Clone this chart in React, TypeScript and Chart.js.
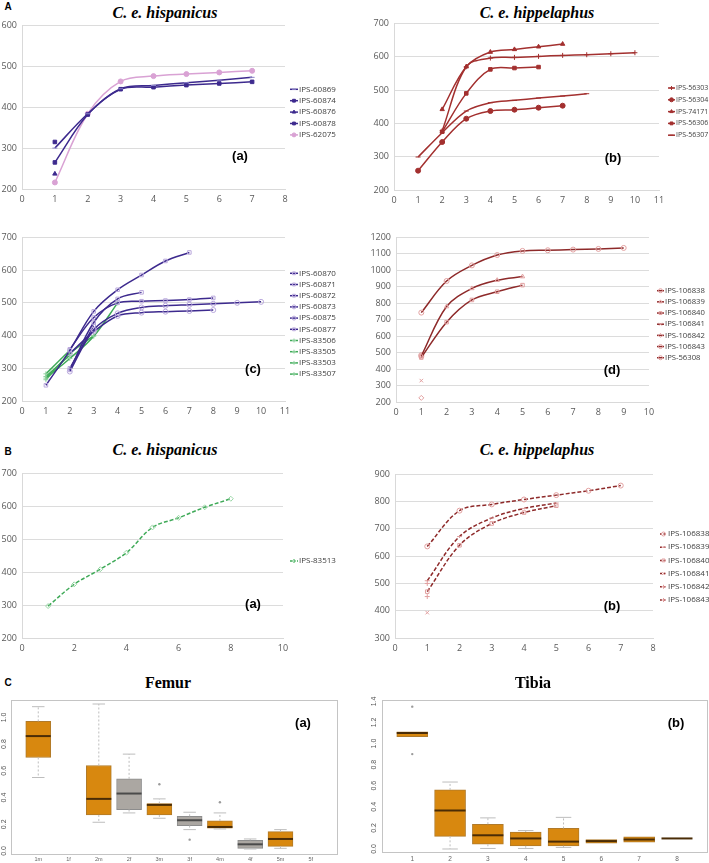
import React, { useEffect, useRef } from "react";
import { Chart, registerables } from "chart.js";
import { drawPoint } from "chart.js/helpers";
Chart.register(...registerables);

// ---------- Panel A (a) C. e. hispanicus ----------
const aa60869X = [1, 2, 3, 4, 5, 6, 7];
const aa60869Y = [300, 384, 445, 453, 460, 466, 473];
const aa60874X = [1, 2, 3, 4, 5, 6, 7];
const aa60874Y = [265, 382, 444, 449, 454, 458, 462];
const aa60876X = [1];
const aa60876Y = [237];
const aa60878X = [1];
const aa60878Y = [315];
const aa62075X = [1, 2, 3, 4, 5, 6, 7];
const aa62075Y = [216, 384, 463, 476, 481, 485, 489];

// ---------- Panel A (b) C. e. hippelaphus ----------
const ab56303X = [2, 3, 4, 5, 6, 7, 8, 9, 10];
const ab56303Y = [378, 570, 596, 598, 601, 604, 606, 609, 612];
const ab56304X = [1, 2, 3, 4, 5, 6, 7];
const ab56304Y = [258, 344, 414, 437, 441, 447, 453];
const ab74171X = [2, 3, 4, 5, 6, 7];
const ab74171Y = [442, 570, 614, 622, 630, 638];
const ab56306X = [2, 3, 4, 5, 6];
const ab56306Y = [375, 490, 562, 566, 569];
const ab56307X = [1, 2, 3, 4, 5, 6, 7, 8];
const ab56307Y = [299, 372, 437, 462, 469, 476, 482, 489];

// ---------- Panel A (c) ----------
const ac60870X = [1, 2, 3, 4, 5, 6, 7];
const ac60870Y = [248, 355, 474, 540, 585, 628, 654];
const ac60871X = [2, 3, 4, 5];
const ac60871Y = [295, 440, 512, 532];
const ac60872X = [2, 3, 4, 5, 6, 7, 8];
const ac60872Y = [358, 455, 500, 505, 507, 510, 515];
const ac60873X = [2, 3, 4, 5, 6, 7, 8, 9, 10];
const ac60873Y = [290, 418, 468, 486, 491, 494, 497, 500, 503];
const ac60875X = [2, 3, 4, 5, 6, 7, 8];
const ac60875Y = [345, 412, 460, 470, 473, 475, 478];
const ac60877X = [2, 3];
const ac60877Y = [300, 430];
const ac83506X = [1, 2, 3, 4];
const ac83506Y = [270, 330, 398, 500];
const ac83505X = [1, 2, 3];
const ac83505Y = [265, 345, 400];
const ac83503X = [1, 2];
const ac83503Y = [275, 340];
const ac83507X = [1, 2];
const ac83507Y = [283, 355];

// ---------- Panel A (d) ----------
const ad106838X = [1, 2, 3, 4, 5, 6, 7, 8, 9];
const ad106838Y = [743, 935, 1030, 1093, 1118, 1122, 1126, 1130, 1136];
const ad106839X = [1, 2, 3, 4, 5];
const ad106839Y = [480, 780, 890, 940, 962];
const ad106840X = [1, 2, 3, 4, 5];
const ad106840Y = [470, 685, 820, 870, 910];
const ad106841X = [1];
const ad106841Y = [330];
const ad106842X = [1];
const ad106842Y = [225];
const ad106843X = [1];
const ad106843Y = [478];
const ad56308X = [1];
const ad56308Y = [485];

// ---------- Panel B (a) ----------
const ba83513X = [1, 2, 3, 4, 5, 6, 7, 8];
const ba83513Y = [297, 363, 409, 459, 536, 565, 597, 623];

// ---------- Panel B (b) ----------
const bb106838X = [1, 2, 3, 4, 5, 6, 7];
const bb106838Y = [636, 767, 790, 808, 824, 840, 859];
const bb106839X = [1, 2, 3, 4, 5];
const bb106839Y = [510, 672, 740, 775, 795];
const bb106840X = [1, 2, 3, 4, 5];
const bb106840Y = [470, 640, 720, 760, 785];
const bb106841X = [1];
const bb106841Y = [393];
const bb106842X = [1];
const bb106842Y = [452];
const bb106843X = [1];
const bb106843Y = [500];

// ---------- Panel C (a) Femur ----------
const femurLabels = ["1m", "1f", "2m", "2f", "3m", "3f", "4m", "4f", "5m", "5f"];
const femurLow = [0.55, null, 0.215, 0.285, 0.245, 0.16, 0.165, 0.015, 0.02, null];
const femurQ1 = [0.70, null, 0.27, 0.31, 0.27, 0.19, 0.17, 0.02, 0.035, null];
const femurMedian = [0.86, null, 0.39, 0.43, 0.345, 0.23, 0.18, 0.05, 0.09, null];
const femurQ3 = [0.97, null, 0.64, 0.54, 0.355, 0.26, 0.225, 0.08, 0.145, null];
const femurHigh = [1.08, null, 1.10, 0.725, 0.39, 0.29, 0.285, 0.09, 0.16, null];
const femurOutliers = [[], [], [], [], [0.50], [0.085], [0.365], [], [], []];

// ---------- Panel C (b) Tibia ----------
const tibiaLabels = ["1", "2", "3", "4", "5", "6", "7", "8"];
const tibiaLow = [1.065, 0.0, 0.005, 0.005, 0.015, 0.055, 0.065, 0.10];
const tibiaQ1 = [1.065, 0.12, 0.045, 0.03, 0.03, 0.055, 0.065, 0.10];
const tibiaMedian = [1.10, 0.365, 0.13, 0.10, 0.07, 0.075, 0.09, 0.10];
const tibiaQ3 = [1.11, 0.56, 0.235, 0.16, 0.195, 0.09, 0.115, 0.10];
const tibiaHigh = [1.11, 0.635, 0.295, 0.175, 0.30, 0.09, 0.115, 0.10];
const tibiaOutliers = [[1.35, 0.90], [], [], [], [], [], [], []];

const boxTicks = [0, 0.2, 0.4, 0.6, 0.8, 1.0, 1.2, 1.4];

// ---------- colours ----------
const PURPLE = "#3d2a8e";
const PINK = "#d9a2d4";
const RED = "#a3302f";
const DRED = "#8e2a2a";
const GREEN = "#3faa58";
const LAV = "#b9a8dc";
const PINKMK = "#e2a0a0";
const ORANGE = "#d8880f";
const GRAY = "#aba7a2";

const TICK_FONT = { family: "'Open Sans'", size: 9 };

type Series = {
  label: string;
  xs: number[];
  ys: number[];
  color: string;
  style: string;
  mColor?: string;
  mFill?: string;
  dash?: number[];
};

const excelLegend = {
  id: "excelLegend",
  afterDraw(chart: any, _a: any, opts: any) {
    if (!opts || !opts.show) return;
    const ctx = chart.ctx;
    ctx.save();
    ctx.font = opts.font;
    ctx.textBaseline = "middle";
    ctx.textAlign = "left";
    chart.data.datasets.forEach((ds: any, i: number) => {
      const y = opts.y + i * opts.dy;
      const x0 = opts.x;
      const x1 = opts.x + opts.len;
      ctx.strokeStyle = ds.borderColor;
      ctx.lineWidth = 1.5;
      ctx.setLineDash(ds.borderDash && ds.borderDash.length ? [2, 1.5] : []);
      ctx.beginPath();
      ctx.moveTo(x0, y);
      ctx.lineTo(x1, y);
      ctx.stroke();
      ctx.setLineDash([]);
      ctx.fillStyle = ds.pointBackgroundColor;
      ctx.strokeStyle = ds.pointBorderColor;
      ctx.lineWidth = 1;
      drawPoint(ctx, { pointStyle: ds.pointStyle, radius: 2, rotation: 0, borderWidth: 1 }, (x0 + x1) / 2, y);
      ctx.fillStyle = "#404040";
      ctx.fillText(ds.label, x1 + 1, y);
    });
    ctx.restore();
  },
};

type LineProps = {
  left: number; top: number; width: number; height: number;
  yw: number; xh: number; pt: number; pr: number;
  xMin: number; xMax: number; xStep: number;
  yMin: number; yMax: number; yStep: number;
  series: Series[];
  legend: { x: number; y: number; dy: number; len: number; size: number };
};

function LinePanel(p: LineProps) {
  const ref = useRef<HTMLCanvasElement>(null);
  useEffect(() => {
    const chart = new Chart(ref.current as HTMLCanvasElement, {
      type: "line",
      data: {
        datasets: p.series.map((s) => ({
          label: s.label,
          data: s.ys.map((y, i) => ({ x: s.xs[i], y })),
          borderColor: s.color,
          backgroundColor: s.color,
          borderWidth: 1.5,
          borderDash: s.dash ?? [],
          tension: 0.35,
          pointStyle: s.style as any,
          pointRadius: 2.5,
          pointBorderWidth: 1,
          pointBorderColor: s.mColor ?? s.color,
          pointBackgroundColor: s.mFill ?? s.mColor ?? s.color,
        })),
      },
      options: {
        responsive: false,
        animation: false,
        devicePixelRatio: 1,
        layout: { padding: { top: p.pt, right: p.pr, left: 0, bottom: 0 } },
        plugins: {
          legend: { display: false },
          tooltip: { enabled: false },
          excelLegend: { show: true, ...p.legend, font: `${p.legend.size}px 'Open Sans'` },
        } as any,
        scales: {
          x: {
            type: "linear",
            min: p.xMin,
            max: p.xMax,
            ticks: { stepSize: p.xStep, font: TICK_FONT, color: "#595959", padding: 5 },
            grid: { display: false, drawTicks: false },
            border: { display: true, color: "#d9d9d9" },
            afterFit: (s: any) => { s.height = p.xh; },
          },
          y: {
            type: "linear",
            min: p.yMin,
            max: p.yMax,
            ticks: {
              stepSize: p.yStep,
              font: TICK_FONT,
              color: "#595959",
              padding: 5,
              callback: (v: any) => String(v),
            },
            grid: { color: "#dcdcdc", drawTicks: false },
            border: { display: true, color: "#d9d9d9" },
            afterFit: (s: any) => { s.width = p.yw; },
          },
        },
      },
      plugins: [excelLegend as any],
    });
    return () => chart.destroy();
  }, []);
  return (
    <canvas
      ref={ref}
      width={p.width}
      height={p.height}
      style={{ position: "absolute", left: p.left, top: p.top, width: p.width, height: p.height }}
    />
  );
}

const boxPlugin = {
  id: "boxExtras",
  afterDatasetsDraw(chart: any, _a: any, opts: any) {
    const { ctx, scales, chartArea } = chart;
    const x = scales.x;
    const y = scales.y;
    ctx.save();
    opts.items.forEach((it: any) => {
      const cx = x.getPixelForValue(it.x);
      const half = opts.boxWidth / 2;
      const cap = opts.boxWidth / 4;
      ctx.strokeStyle = "#bdbdbd";
      ctx.lineWidth = 1;
      if (it.hi > it.q3) {
        ctx.setLineDash([2, 2]);
        ctx.beginPath();
        ctx.moveTo(cx, y.getPixelForValue(it.q3));
        ctx.lineTo(cx, y.getPixelForValue(it.hi));
        ctx.stroke();
        ctx.setLineDash([]);
        ctx.beginPath();
        ctx.moveTo(cx - cap, y.getPixelForValue(it.hi));
        ctx.lineTo(cx + cap, y.getPixelForValue(it.hi));
        ctx.stroke();
      }
      if (it.lo < it.q1) {
        ctx.setLineDash([2, 2]);
        ctx.beginPath();
        ctx.moveTo(cx, y.getPixelForValue(it.q1));
        ctx.lineTo(cx, y.getPixelForValue(it.lo));
        ctx.stroke();
        ctx.setLineDash([]);
        ctx.beginPath();
        ctx.moveTo(cx - cap, y.getPixelForValue(it.lo));
        ctx.lineTo(cx + cap, y.getPixelForValue(it.lo));
        ctx.stroke();
      }
      ctx.strokeStyle = it.medColor;
      ctx.lineWidth = 2;
      ctx.beginPath();
      ctx.moveTo(cx - half, y.getPixelForValue(it.med));
      ctx.lineTo(cx + half, y.getPixelForValue(it.med));
      ctx.stroke();
      ctx.fillStyle = "#9a9a9a";
      it.out.forEach((v: number) => {
        ctx.beginPath();
        ctx.arc(cx, y.getPixelForValue(v), 1.2, 0, Math.PI * 2);
        ctx.fill();
      });
    });
    // frame
    ctx.strokeStyle = "#c4c4c4";
    ctx.lineWidth = 1;
    ctx.strokeRect(chartArea.left + 0.5, chartArea.top + 0.5, chartArea.right - chartArea.left - 1, chartArea.bottom - chartArea.top - 1);
    // rotated y labels
    ctx.fillStyle = "#555";
    ctx.font = "7px 'Liberation Sans'";
    ctx.textAlign = "center";
    ctx.textBaseline = "middle";
    opts.yTicks.forEach((v: number) => {
      if (v > y.max) return;
      const py = y.getPixelForValue(v);
      ctx.save();
      ctx.translate(opts.yLabelX, py);
      ctx.rotate(-Math.PI / 2);
      ctx.fillText(v.toFixed(1), 0, 0);
      ctx.restore();
    });
    ctx.restore();
  },
};

type BoxProps = {
  left: number; top: number; width: number; height: number;
  yw: number; xh: number; pt: number; pr: number;
  xMin: number; xMax: number; yMin: number; yMax: number;
  labels: string[];
  lo: (number | null)[]; q1: (number | null)[]; med: (number | null)[];
  q3: (number | null)[]; hi: (number | null)[]; out: number[][];
  boxWidth: number; yLabelX: number; xFont: number; xPad: number;
};

function BoxPanel(p: BoxProps) {
  const ref = useRef<HTMLCanvasElement>(null);
  useEffect(() => {
    const idx = p.labels.map((_, i) => i).filter((i) => p.q1[i] !== null);
    const isGray = (i: number) => p.labels[i].endsWith("f");
    const items = idx.map((i) => ({
      x: i + 1,
      lo: p.lo[i], q1: p.q1[i], med: p.med[i], q3: p.q3[i], hi: p.hi[i],
      out: p.out[i],
      medColor: isGray(i) ? "#4a4a4a" : "#4a2c06",
    }));
    const chart = new Chart(ref.current as HTMLCanvasElement, {
      type: "bar",
      data: {
        datasets: [
          {
            label: "box",
            data: idx.map((i) => ({ x: i + 1, y: [p.q1[i], p.q3[i]] })) as any,
            backgroundColor: idx.map((i) => (isGray(i) ? GRAY : ORANGE)),
            borderColor: idx.map((i) => (isGray(i) ? "#8d8d8d" : "#b07a2a")),
            borderWidth: 1,
            borderSkipped: false,
            barThickness: p.boxWidth,
            grouped: false,
          } as any,
        ],
      },
      options: {
        responsive: false,
        animation: false,
        devicePixelRatio: 1,
        layout: { padding: { top: p.pt, right: p.pr, left: 0, bottom: 0 } },
        plugins: {
          legend: { display: false },
          tooltip: { enabled: false },
          boxExtras: { items, boxWidth: p.boxWidth, yTicks: boxTicks, yLabelX: p.yLabelX },
        } as any,
        scales: {
          x: {
            type: "linear",
            min: p.xMin,
            max: p.xMax,
            offset: false,
            afterBuildTicks: (s: any) => {
              s.ticks = p.labels.map((_, i) => ({ value: i + 1 }));
            },
            ticks: {
              autoSkip: false,
              maxRotation: 0,
              padding: p.xPad,
              font: { family: "'Liberation Sans'", size: p.xFont },
              color: "#666",
              callback: (v: any) => p.labels[Math.round(v) - 1] ?? "",
            },
            grid: { display: false, drawTicks: false },
            border: { display: false },
            afterFit: (s: any) => { s.height = p.xh; },
          },
          y: {
            type: "linear",
            min: p.yMin,
            max: p.yMax,
            ticks: { display: false },
            grid: { display: false, drawTicks: false },
            border: { display: false },
            afterFit: (s: any) => { s.width = p.yw; },
          },
        },
      },
      plugins: [boxPlugin as any],
    });
    return () => chart.destroy();
  }, []);
  return (
    <canvas
      ref={ref}
      width={p.width}
      height={p.height}
      style={{ position: "absolute", left: p.left, top: p.top, width: p.width, height: p.height }}
    />
  );
}

function Txt(props: { x: number; y: number; text: string; style: React.CSSProperties }) {
  return (
    <div
      style={{
        position: "absolute",
        left: props.x,
        top: props.y,
        transform: "translate(-50%, -50%)",
        whiteSpace: "nowrap",
        lineHeight: 1,
        ...props.style,
      }}
    >
      {props.text}
    </div>
  );
}

const titleStyle: React.CSSProperties = {
  fontFamily: "'Liberation Serif', serif",
  fontWeight: "bold",
  fontStyle: "italic",
  fontSize: 16,
  color: "#000",
};
const boneStyle: React.CSSProperties = {
  fontFamily: "'Liberation Serif', serif",
  fontWeight: "bold",
  fontSize: 16,
  color: "#000",
};
const letterStyle: React.CSSProperties = {
  fontFamily: "'Liberation Sans', Arial, sans-serif",
  fontWeight: "bold",
  fontSize: 10,
  color: "#000",
};
const tagStyle: React.CSSProperties = {
  fontFamily: "'Liberation Sans', Arial, sans-serif",
  fontWeight: "bold",
  fontSize: 13,
  color: "#000",
};

const S = (label: string, xs: number[], ys: number[], color: string, style: string, extra: Partial<Series> = {}): Series => ({
  label, xs, ys, color, style, ...extra,
});

export default function App() {
  const aaSeries = [
    S("IPS-60869", aa60869X, aa60869Y, PURPLE, "line", { mColor: "#8c85c8" }),
    S("IPS-60874", aa60874X, aa60874Y, PURPLE, "rect"),
    S("IPS-60876", aa60876X, aa60876Y, PURPLE, "triangle"),
    S("IPS-60878", aa60878X, aa60878Y, PURPLE, "rect"),
    S("IPS-62075", aa62075X, aa62075Y, PINK, "circle"),
  ];
  const abSeries = [
    S("IPS-56303", ab56303X, ab56303Y, RED, "cross"),
    S("IPS-56304", ab56304X, ab56304Y, RED, "circle"),
    S("IPS-74171", ab74171X, ab74171Y, RED, "triangle"),
    S("IPS-56306", ab56306X, ab56306Y, RED, "rect"),
    S("IPS-56307", ab56307X, ab56307Y, RED, "line"),
  ];
  const lav = { mColor: LAV, mFill: "rgba(255,255,255,0)" };
  const acSeries = [
    S("IPS-60870", ac60870X, ac60870Y, PURPLE, "rect", lav),
    S("IPS-60871", ac60871X, ac60871Y, PURPLE, "rect", lav),
    S("IPS-60872", ac60872X, ac60872Y, PURPLE, "rect", lav),
    S("IPS-60873", ac60873X, ac60873Y, PURPLE, "circle", lav),
    S("IPS-60875", ac60875X, ac60875Y, PURPLE, "circle", lav),
    S("IPS-60877", ac60877X, ac60877Y, PURPLE, "rect", lav),
    S("IPS-83506", ac83506X, ac83506Y, GREEN, "cross", { mColor: "#8fd19e" }),
    S("IPS-83505", ac83505X, ac83505Y, GREEN, "cross", { mColor: "#8fd19e" }),
    S("IPS-83503", ac83503X, ac83503Y, GREEN, "cross", { mColor: "#8fd19e" }),
    S("IPS-83507", ac83507X, ac83507Y, GREEN, "cross", { mColor: "#8fd19e" }),
  ];
  const pk = { mColor: PINKMK, mFill: "rgba(255,255,255,0)" };
  const adSeries = [
    S("IPS-106838", ad106838X, ad106838Y, DRED, "circle", pk),
    S("IPS-106839", ad106839X, ad106839Y, DRED, "triangle", pk),
    S("IPS-106840", ad106840X, ad106840Y, DRED, "rect", pk),
    S("IPS-106841", ad106841X, ad106841Y, DRED, "crossRot", pk),
    S("IPS-106842", ad106842X, ad106842Y, DRED, "rectRot", pk),
    S("IPS-106843", ad106843X, ad106843Y, DRED, "circle", pk),
    S("IPS-56308", ad56308X, ad56308Y, DRED, "circle", pk),
  ];
  const baSeries = [
    S("IPS-83513", ba83513X, ba83513Y, GREEN, "rectRot", { mColor: "#9ad6a6", mFill: "rgba(255,255,255,0)", dash: [4, 2] }),
  ];
  const dsh = { mColor: PINKMK, mFill: "rgba(255,255,255,0)", dash: [4, 2] };
  const bbSeries = [
    S("IPS-106838", bb106838X, bb106838Y, DRED, "circle", dsh),
    S("IPS-106839", bb106839X, bb106839Y, DRED, "line", dsh),
    S("IPS-106840", bb106840X, bb106840Y, DRED, "rect", dsh),
    S("IPS-106841", bb106841X, bb106841Y, DRED, "crossRot", dsh),
    S("IPS-106842", bb106842X, bb106842Y, DRED, "cross", dsh),
    S("IPS-106843", bb106843X, bb106843Y, DRED, "cross", dsh),
  ];

  return (
    <div style={{ position: "absolute", left: 0, top: 0, width: 709, height: 863, background: "#fff", overflow: "hidden" }}>
      <Txt x={8} y={7} text="A" style={letterStyle} />
      <Txt x={165} y={13} text="C. e. hispanicus" style={titleStyle} />
      <Txt x={537} y={13} text="C. e. hippelaphus" style={titleStyle} />

      <LinePanel left={0} top={15} width={350} height={200} yw={22} xh={26} pt={10} pr={65}
        xMin={0} xMax={8} xStep={1} yMin={200} yMax={600} yStep={100}
        series={aaSeries} legend={{ x: 290, y: 74.3, dy: 11.4, len: 8, size: 8 }} />
      <Txt x={240} y={155} text="(a)" style={tagStyle} />

      <LinePanel left={355} top={13} width={354} height={202} yw={39} xh={25} pt={10} pr={50}
        xMin={0} xMax={11} xStep={1} yMin={200} yMax={700} yStep={100}
        series={abSeries} legend={{ x: 313, y: 75, dy: 11.8, len: 7, size: 7 }} />
      <Txt x={613} y={157} text="(b)" style={tagStyle} />

      <LinePanel left={0} top={227} width={350} height={200} yw={22} xh={26} pt={10} pr={65}
        xMin={0} xMax={11} xStep={1} yMin={200} yMax={700} yStep={100}
        series={acSeries} legend={{ x: 290, y: 46.3, dy: 11.2, len: 8, size: 8 }} />
      <Txt x={253} y={368} text="(c)" style={tagStyle} />

      <LinePanel left={355} top={227} width={354} height={200} yw={41} xh={25} pt={10} pr={60}
        xMin={0} xMax={10} xStep={1} yMin={200} yMax={1200} yStep={100}
        series={adSeries} legend={{ x: 302, y: 63.7, dy: 11.17, len: 7, size: 7.7 }} />
      <Txt x={612} y={369} text="(d)" style={tagStyle} />

      <Txt x={8} y={452} text="B" style={letterStyle} />
      <Txt x={165} y={450} text="C. e. hispanicus" style={titleStyle} />
      <Txt x={537} y={450} text="C. e. hippelaphus" style={titleStyle} />

      <LinePanel left={0} top={463} width={350} height={200} yw={22} xh={25} pt={10} pr={67}
        xMin={0} xMax={10} xStep={2} yMin={200} yMax={700} yStep={100}
        series={baSeries} legend={{ x: 290, y: 98, dy: 11, len: 8, size: 8 }} />
      <Txt x={253} y={603} text="(a)" style={tagStyle} />

      <LinePanel left={355} top={464} width={354} height={200} yw={40} xh={26} pt={10} pr={56}
        xMin={0} xMax={8} xStep={1} yMin={300} yMax={900} yStep={100}
        series={bbSeries} legend={{ x: 305, y: 70, dy: 13.2, len: 7, size: 8 }} />
      <Txt x={612} y={605} text="(b)" style={tagStyle} />

      <Txt x={8} y={683} text="C" style={letterStyle} />
      <Txt x={168} y={683} text="Femur" style={boneStyle} />
      <Txt x={533} y={683} text="Tibia" style={boneStyle} />

      <BoxPanel left={0} top={690} width={345} height={173} yw={11} xh={8} pt={10} pr={7}
        xMin={0.1} xMax={10.9} yMin={-0.03} yMax={1.13}
        labels={femurLabels} lo={femurLow} q1={femurQ1} med={femurMedian} q3={femurQ3} hi={femurHigh}
        out={femurOutliers} boxWidth={25} yLabelX={4.5} xFont={5.5} xPad={1} />
      <Txt x={303} y={722} text="(a)" style={tagStyle} />

      <BoxPanel left={360} top={690} width={349} height={173} yw={22} xh={10} pt={10} pr={1}
        xMin={0.2} xMax={8.82} yMin={-0.038} yMax={1.413}
        labels={tibiaLabels} lo={tibiaLow} q1={tibiaQ1} med={tibiaMedian} q3={tibiaQ3} hi={tibiaHigh}
        out={tibiaOutliers} boxWidth={31} yLabelX={14} xFont={6.5} xPad={2} />
      <Txt x={676} y={722} text="(b)" style={tagStyle} />
    </div>
  );
}
